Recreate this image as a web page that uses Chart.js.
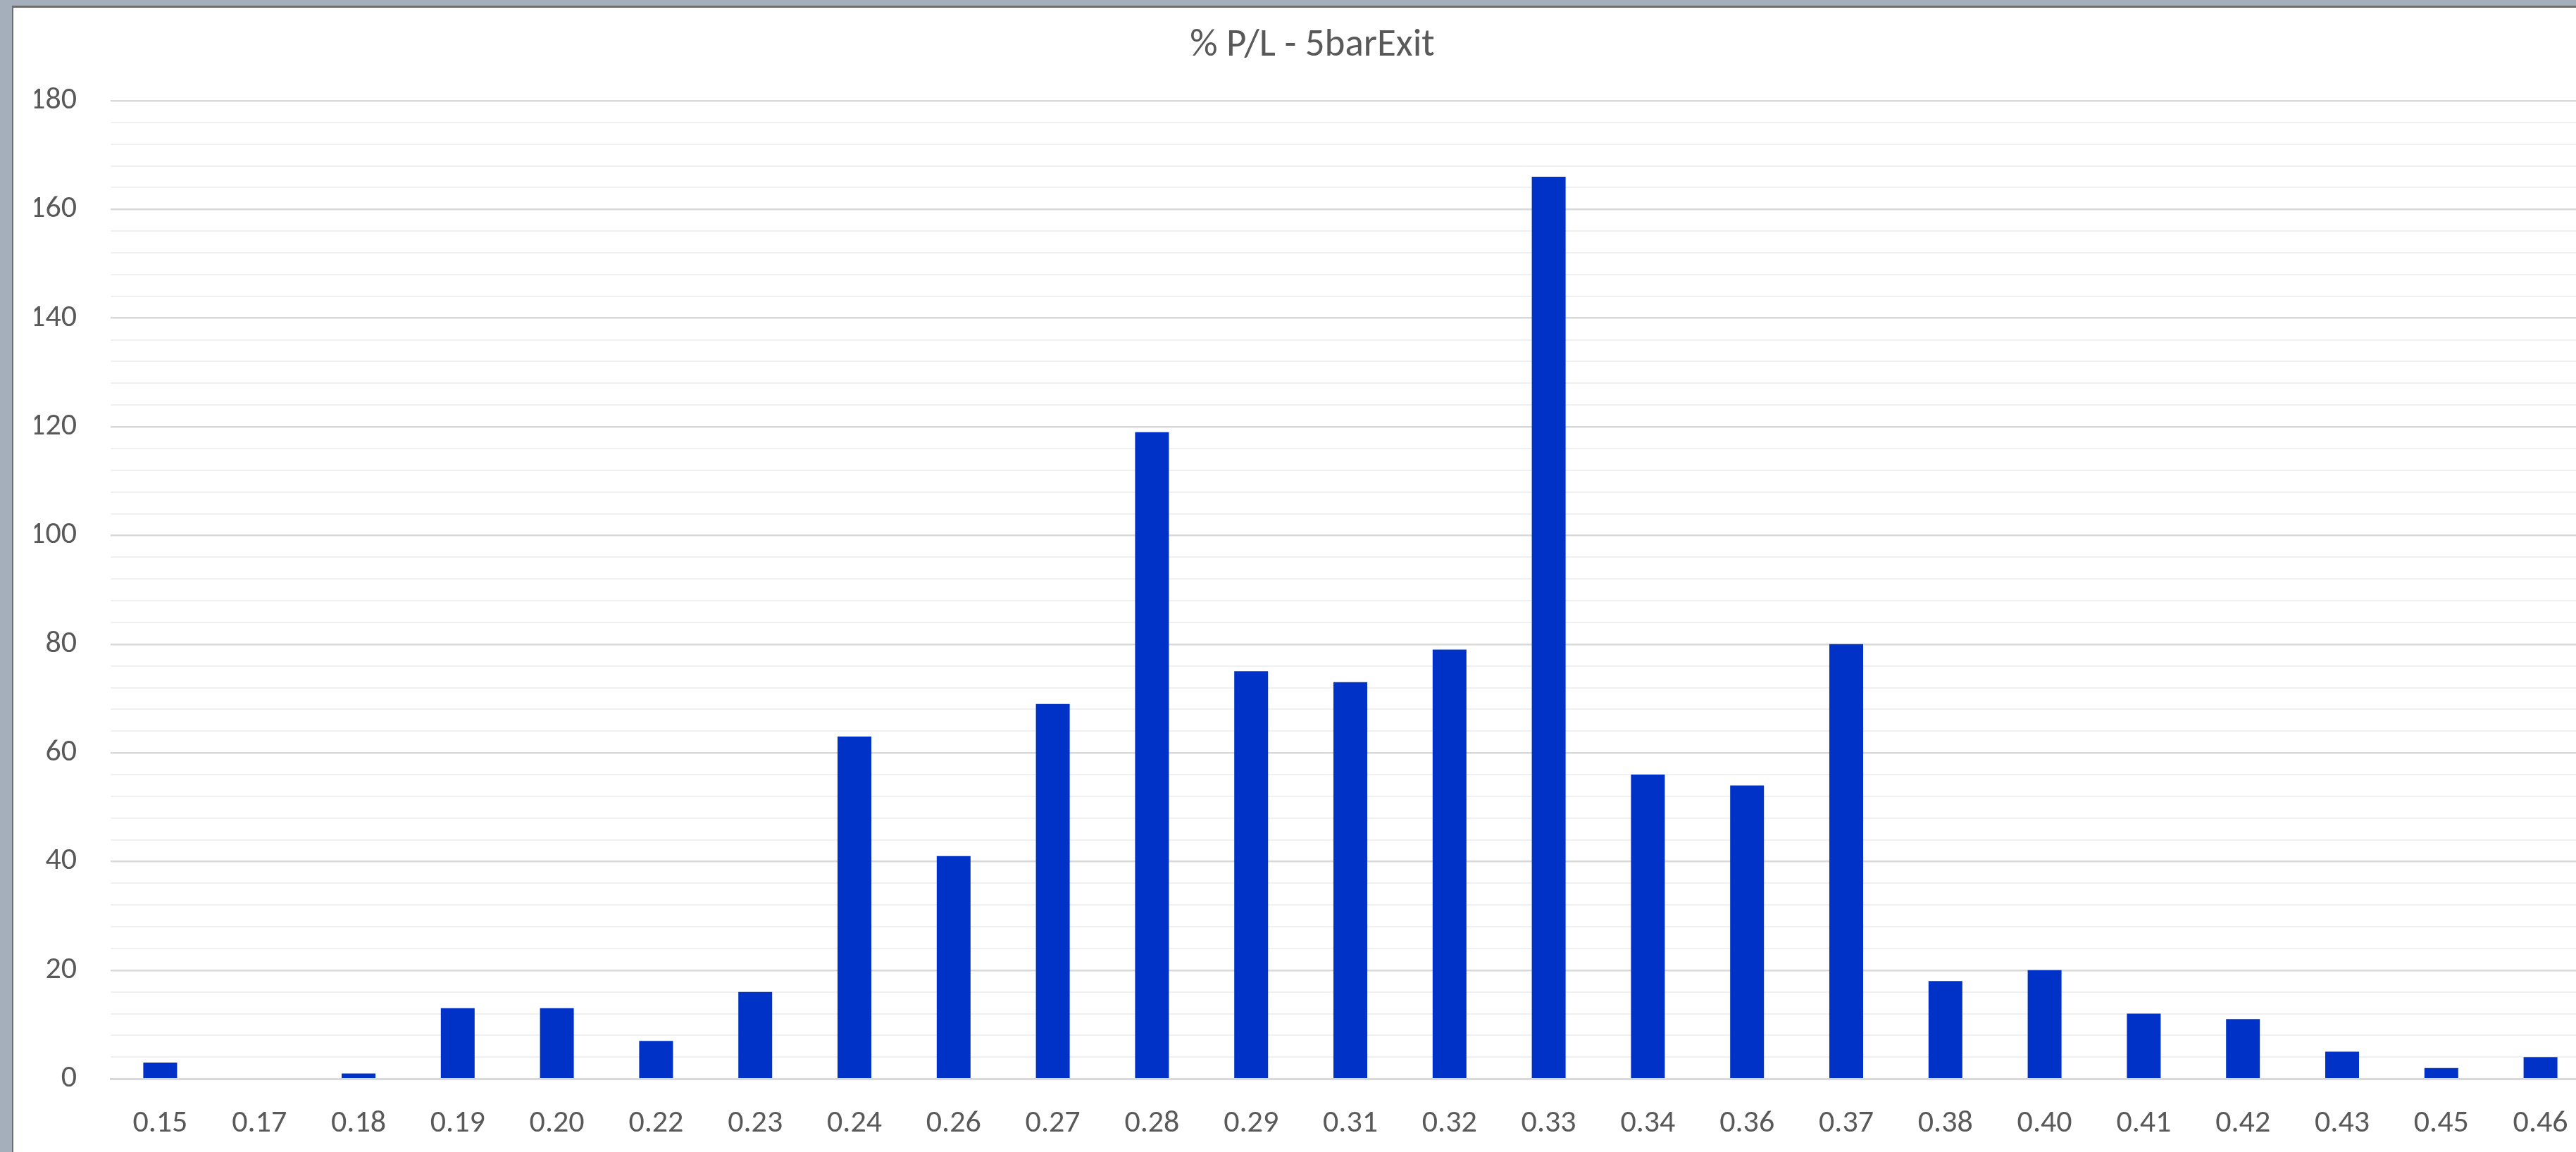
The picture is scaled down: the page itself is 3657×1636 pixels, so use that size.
<!DOCTYPE html>
<html>
<head>
<meta charset="utf-8">
<script src="https://cdn.jsdelivr.net/npm/chart.js@4"></script>
<style>
  html, body { margin:0; padding:0; width:3657px; height:1636px; overflow:hidden; background:#a5afbb; }
  #wrap { position:absolute; left:17px; top:8px; width:3720px; height:1628px;
          border-left:2px solid #6e6e6e; border-top:3px solid #6e6e6e; background:#ffffff; overflow:hidden; }
  canvas { display:block; }
</style>
</head>
<body>
<div id="wrap"><canvas id="c" width="3720" height="1667"></canvas></div>
<script>
const titleText = '% P/L - 5barExit';
const categories = ['0.15','0.17','0.18','0.19','0.20','0.22','0.23','0.24','0.26','0.27','0.28','0.29','0.31','0.32','0.33','0.34','0.36','0.37','0.38','0.40','0.41','0.42','0.43','0.45','0.46'];
const values = [3,0,1,13,13,7,16,63,41,69,119,75,73,79,166,56,54,80,18,20,12,11,5,2,4];
const yMin = 0, yMax = 180, yMajorStep = 20, yMinorStep = 4;

const FONT = "Calibri, Carlito, Lato, 'Noto Sans', sans-serif";
const TEXT = '#595959';

new Chart(document.getElementById('c'), {
  type: 'bar',
  data: {
    labels: categories,
    datasets: [{
      data: values,
      backgroundColor: '#0032c8',
      borderWidth: 0,
      categoryPercentage: 1.0,
      barPercentage: 0.341
    }]
  },
  options: {
    responsive: false,
    animation: false,
    layout: { padding: { left: 30, right: 62, top: 0, bottom: 19 } },
    plugins: {
      legend: { display: false },
      tooltip: { enabled: false },
      title: {
        display: true,
        text: titleText,
        color: TEXT,
        font: { family: FONT, size: 55, weight: 'normal' },
        padding: { top: 21, bottom: 45 }
      }
    },
    scales: {
      x: {
        grid: { display: false, drawTicks: false },
        border: { display: true, color: '#d9d9d9', width: 3 },
        ticks: { color: TEXT, font: { family: FONT, size: 44 }, padding: 37, autoSkip: false, maxRotation: 0 }
      },
      y: {
        min: yMin, max: yMax,
        afterFit: (s) => { s.width = 108; },
        border: { display: false },
        grid: {
          drawTicks: false,
          color: (ctx) => (ctx.tick && ctx.tick.value % yMajorStep === 0) ? '#d9d9d9' : '#f0f0f0',
          lineWidth: (ctx) => (ctx.tick && ctx.tick.value % yMajorStep === 0) ? 2.5 : 2
        },
        ticks: {
          stepSize: yMinorStep,
          autoSkip: false,
          color: TEXT,
          padding: 48,
          font: { family: FONT, size: 44 },
          callback: (v) => (v % yMajorStep === 0) ? String(v) : ''
        }
      }
    }
  }
});
</script>
</body>
</html>
